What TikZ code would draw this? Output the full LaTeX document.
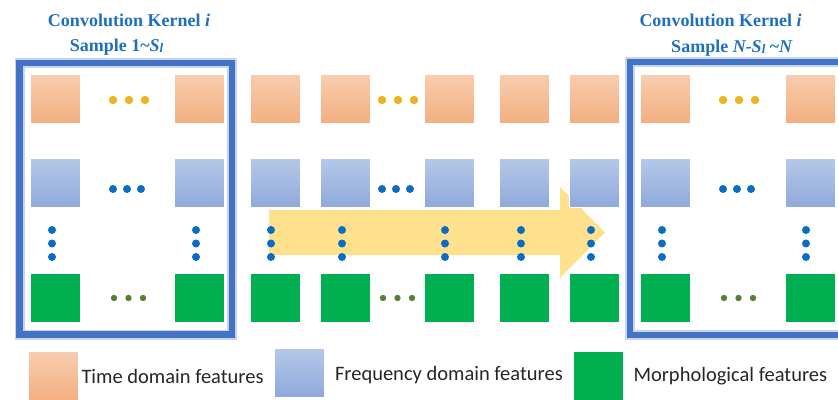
\documentclass[tikz,border=0pt]{standalone}
\usepackage{fontspec}
\setmainfont{Liberation Serif}
\newfontfamily\legendfont{Carlito}
\usetikzlibrary{positioning}
\definecolor{kernelblue}{HTML}{4472C4}
\definecolor{glowblue}{HTML}{C5D5F0}
\definecolor{titleblue}{HTML}{1F6FBF}
\definecolor{orangetop}{HTML}{F8CDB0}
\definecolor{orangebot}{HTML}{F3AE80}
\definecolor{bluetop}{HTML}{B5C8E8}
\definecolor{bluebot}{HTML}{8EA9DB}
\definecolor{morphgreen}{HTML}{00B050}
\definecolor{dotgold}{HTML}{EDB422}
\definecolor{dotblue}{HTML}{0A6CC2}
\definecolor{dotgreen}{HTML}{548235}
\definecolor{arrowyellow}{HTML}{FFE08C}
\tikzset{
  featsq/.style={minimum width=50pt, minimum height=49pt, inner sep=0pt, draw=white, line width=0.6pt},
  timesq/.style={featsq, top color=orangetop, bottom color=orangebot},
  freqsq/.style={featsq, top color=bluetop, bottom color=bluebot},
  morphsq/.style={featsq, fill=morphgreen},
  kernelframe/.style={draw=kernelblue, line width=6.5pt, preaction={draw=glowblue, line width=10pt}},
  kerneltitle/.style={text=titleblue, font=\fontsize{18}{20}\selectfont\bfseries, inner sep=0pt},
  legtext/.style={text=black!85, font=\legendfont\fontsize{20.5}{22}\selectfont, inner sep=0pt, anchor=west}
}
\newcommand{\subl}{\raisebox{-1pt}{\fontsize{13}{14}\selectfont\textit{l}}}
\begin{document}
\begin{tikzpicture}[x=1pt, y=-1pt]
\useasboundingbox (0,0) rectangle (838,399);
\fill[arrowyellow] (269,210) -- (560,210) -- (560,187) -- (605,232.5) -- (560,278) -- (560,255) -- (269,255) -- cycle;
\foreach \x/\n in {55/1, 199/2, 275/3, 345/4, 449/5, 524/6, 594/7, 665/8, 810/9} {
  \node[timesq] (time\n) at (\x,98.5) {};
  \node[freqsq] (freq\n) at (\x,183) {};
  \node[morphsq] (morph\n) at (\x,298) {};
}
\foreach \x in {113, 382, 723} {
  \foreach \k in {0,1,2} {
    \fill[dotgold] (\x+16*\k,100) circle (4.2);
    \fill[dotblue] (\x+14*\k,189) circle (4);
    \fill[dotgreen] (\x+1+14.5*\k,298) circle (3.2);
  }
}
\foreach \x in {52, 196, 271, 342, 445, 521, 591, 662, 806} {
  \foreach \y in {230, 243.5, 257} {
    \fill[dotblue] (\x,\y) circle (4);
  }
}
\draw[kernelframe] (19.5,63) rectangle (232,334.5);
\draw[kernelframe] (630,62) rectangle (843,335);
\node[kerneltitle] (kernelL) at (129,20) {Convolution Kernel \textit{i}};
\node[kerneltitle] (sampleL) at (116.5,47) {Sample 1\textasciitilde\textit{S}\subl};
\node[kerneltitle] (kernelR) at (720.5,20) {Convolution Kernel \textit{i}};
\node[kerneltitle] (sampleR) at (732,48) {Sample \textit{N-S}\subl\ \textasciitilde\textit{N}};
\node[timesq] (legT) at (53,376) {};
\node[freqsq] (legF) at (299.5,372.5) {};
\node[morphsq] (legM) at (598,376) {};
\node[legtext, right=3pt of legT.east, anchor=west] (legTtext) {Time domain features};
\node[legtext, right=10pt of legF.east, anchor=west, yshift=-2.5pt] (legFtext) {Frequency domain features};
\node[legtext, right=10pt of legM.east, anchor=west] (legMtext) {Morphological features};
\end{tikzpicture}
\end{document}
